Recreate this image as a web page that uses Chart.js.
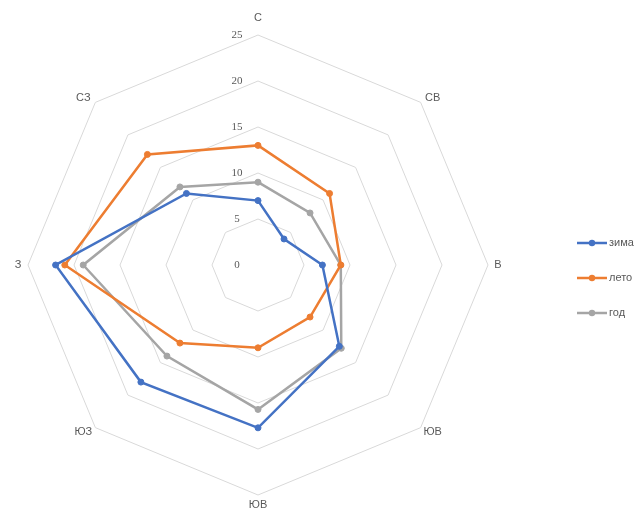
<!DOCTYPE html>
<html>
<head>
<meta charset="utf-8">
<script src="https://cdn.jsdelivr.net/npm/chart.js@4/dist/chart.umd.min.js"></script>
<style>
  html,body{margin:0;padding:0;background:#fff;}
  #wrap{width:639px;height:515px;position:relative;}
</style>
</head>
<body>
<div id="wrap"><canvas id="chart"></canvas></div>
<script>
// направления (как на исходной картинке)
const DIRECTIONS = ['С','СВ','В','ЮВ','ЮВ','ЮЗ','З','СЗ'];
const ZIMA = [7, 4, 7, 12.5, 17.7, 18, 22, 11];
const LETO = [13, 11, 9, 8, 9, 12, 21, 17];
const GOD  = [9, 8, 9, 12.8, 15.7, 14, 19, 12];
const TICK_MIN = 0, TICK_MAX = 25, TICK_STEP = 5;

const SERIES = [
  {label:'зима', data:ZIMA, color:'#4472C4'},
  {label:'лето', data:LETO, color:'#ED7D31'},
  {label:'год',  data:GOD,  color:'#A5A5A5'}
];

// подписи делений слева от вертикальной оси + подписи направлений
const axisText = {
  id:'axisText',
  beforeDatasetsDraw(chart){
    const s = chart.scales.r, ctx = chart.ctx;
    ctx.save();
    ctx.fillStyle = '#595959';
    ctx.textAlign = 'center';
    ctx.textBaseline = 'middle';
    ctx.font = '11px "Liberation Serif", serif';
    s.ticks.forEach(t=>{
      const d = s.getDistanceFromCenterForValue(t.value);
      ctx.fillText(String(t.value), s.xCenter - 21, s.yCenter - d);
    });
    ctx.font = '11px "Liberation Sans", sans-serif';
    chart.data.labels.forEach((lab,i)=>{
      const p = s.getPointPosition(i, s.drawingArea + (i===0 ? 17 : 10));
      let x = p.x, y = p.y;
      if(i%2===1){ // диагональные подписи чуть шире и ближе по вертикали
        x += Math.sign(p.x - s.xCenter)*5;
        y -= Math.sign(p.y - s.yCenter)*3;
      }
      ctx.fillText(lab, x, y);
    });
    ctx.restore();
  }
};

// легенда справа: линия с маркером + подпись
const sideLegend = {
  id:'sideLegend',
  afterDraw(chart){
    const ctx = chart.ctx;
    const x0 = 577, y0 = 243, gap = 35;
    ctx.save();
    chart.data.datasets.forEach((ds,i)=>{
      const y = y0 + i*gap;
      ctx.strokeStyle = ds.borderColor;
      ctx.lineWidth = 2.5;
      ctx.beginPath();
      ctx.moveTo(x0, y);
      ctx.lineTo(x0+30, y);
      ctx.stroke();
      ctx.fillStyle = ds.borderColor;
      ctx.beginPath();
      ctx.arc(x0+15, y, 3.2, 0, Math.PI*2);
      ctx.fill();
      ctx.fillStyle = '#595959';
      ctx.font = '11px "Liberation Sans", sans-serif';
      ctx.textAlign = 'left';
      ctx.textBaseline = 'middle';
      ctx.fillText(ds.label, x0+32, y);
    });
    ctx.restore();
  }
};

new Chart(document.getElementById('chart'),{
  type:'radar',
  data:{
    labels:DIRECTIONS,
    datasets:SERIES.map(s=>({
      label:s.label,
      data:s.data,
      borderColor:s.color,
      backgroundColor:s.color,
      pointBackgroundColor:s.color,
      pointBorderColor:s.color,
      pointRadius:3,
      pointBorderWidth:1,
      borderWidth:2.5,
      fill:false
    }))
  },
  options:{
    responsive:true,
    maintainAspectRatio:false,
    animation:false,
    layout:{padding:{left:0,right:123,top:35,bottom:20}},
    plugins:{legend:{display:false},tooltip:{enabled:false}},
    scales:{
      r:{
        min:TICK_MIN,max:TICK_MAX,
        ticks:{stepSize:TICK_STEP,display:false},
        grid:{color:'#d9d9d9',lineWidth:1},
        angleLines:{display:false},
        pointLabels:{display:false}
      }
    }
  },
  plugins:[axisText,sideLegend]
});
</script>
</body>
</html>
